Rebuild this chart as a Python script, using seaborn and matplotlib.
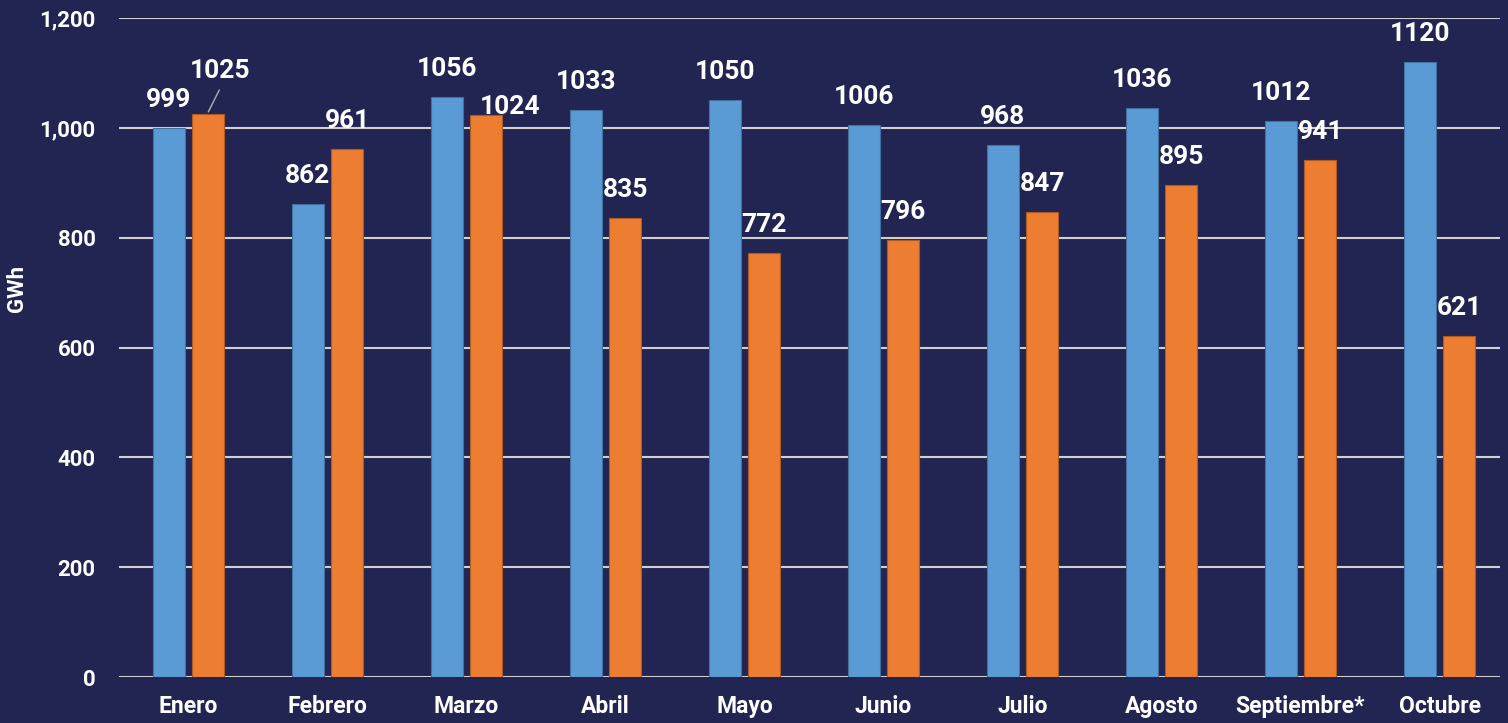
import pandas as pd
import numpy as np
import seaborn as sns
import matplotlib.pyplot as plt
from matplotlib.ticker import FuncFormatter

meses = ['Enero', 'Febrero', 'Marzo', 'Abril', 'Mayo', 'Junio', 'Julio',
         'Agosto', 'Septiembre*', 'Octubre']
serie_azul = [999, 862, 1056, 1033, 1050, 1006, 968, 1036, 1012, 1120]
serie_naranja = [1025, 961, 1024, 835, 772, 796, 847, 895, 941, 621]
yticks = [0, 200, 400, 600, 800, 1000, 1200]

fondo = '#222552'
azul = '#5b9bd5'
naranja = '#ed7d31'

sns.set_theme(style='dark')
plt.rcParams['font.family'] = ['Roboto', 'DejaVu Sans']
plt.rcParams['font.weight'] = 'bold'

df = pd.DataFrame({
    'mes': meses * 2,
    'GWh': serie_azul + serie_naranja,
    'serie': ['a'] * len(meses) + ['b'] * len(meses),
})

fig = plt.figure(figsize=(15.08, 7.23), dpi=100, facecolor=fondo)
ax = fig.add_axes([119 / 1508, 1 - 677 / 723, 1381 / 1508, (677 - 18) / 723])
ax.set_facecolor(fondo)

sns.barplot(data=df, x='mes', y='GWh', hue='serie', palette=[azul, naranja],
            width=0.57, gap=0.2, saturation=1, legend=False, ax=ax, zorder=3)

# bordes un poco mas oscuros
bordes = ['#41719c', '#ae5a21']
for cont, ec in zip(ax.containers, bordes):
    for p in cont:
        p.set_edgecolor(ec)
        p.set_linewidth(0.8)

ax.set_ylim(0, 1200)
ax.set_xlim(-0.5, -0.5 + 1381 / 139)
ax.set_yticks(yticks)
ax.yaxis.set_major_formatter(FuncFormatter(lambda v, _: '{:,.0f}'.format(v)))
ax.grid(axis='y', color='#d0d0d0', linewidth=1.5, zorder=0)
ax.grid(axis='x', visible=False)
for s in ax.spines.values():
    s.set_visible(False)
ax.tick_params(axis='both', length=0, colors='white')
ax.tick_params(axis='y', pad=17, labelsize=16)
ax.tick_params(axis='x', pad=13, labelsize=16.5)
for t in ax.get_xticklabels() + ax.get_yticklabels():
    t.set_fontweight('bold')
ax.set_xlabel('')
ax.set_ylabel('GWh', color='white', fontsize=16, fontweight='bold')
ax.yaxis.label.set_va('center')
ax.yaxis.set_label_coords((17 - 119) / 1381, (677 - 288) / 659)

# etiquetas de valores
especiales = {(1, 0): (12, 43), (1, 2): (24, 8)}
for si, cont in enumerate(ax.containers):
    for mi, p in enumerate(cont):
        val = p.get_height()
        cx = p.get_x() + p.get_width() / 2
        dx, dy = especiales.get((si, mi), (0, 28))
        ax.annotate('{:.0f}'.format(val), xy=(cx, val), xytext=(dx, dy),
                    textcoords='offset pixels', ha='center', va='center',
                    color='white', fontsize=19, fontweight='bold', zorder=5)
        if (si, mi) == (1, 0):
            # linea guia de la etiqueta desplazada
            ax.annotate('', xy=(cx, val + 4), xytext=(11, 22),
                        textcoords='offset pixels',
                        arrowprops=dict(arrowstyle='-', color='#b0b0b0', lw=1,
                                        shrinkA=0, shrinkB=0))

fig.savefig('out.png', dpi=100, facecolor=fondo)
